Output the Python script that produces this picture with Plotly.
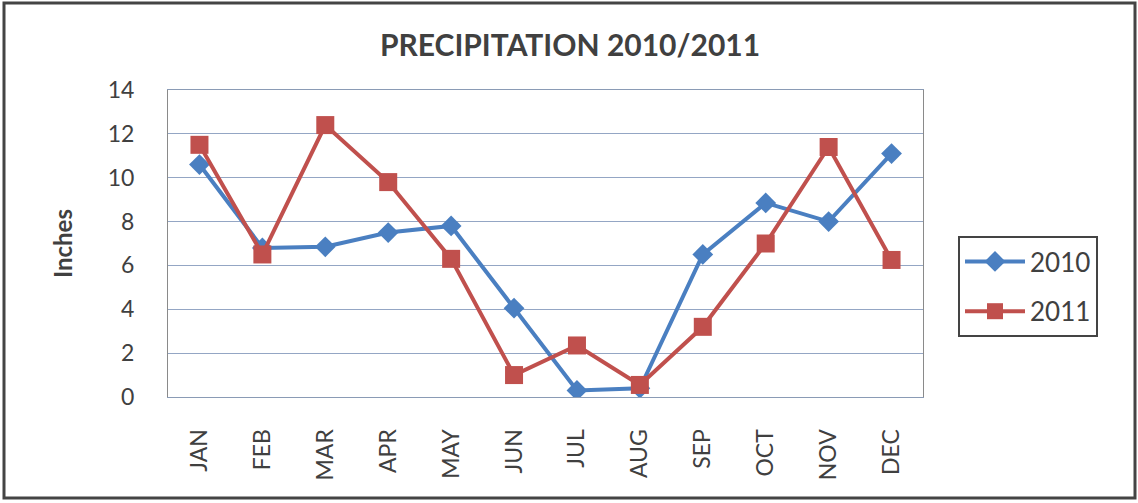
import plotly.graph_objects as go

months = ["JAN", "FEB", "MAR", "APR", "MAY", "JUN", "JUL", "AUG", "SEP", "OCT", "NOV", "DEC"]
y2010 = [10.6, 6.8, 6.85, 7.5, 7.8, 4.05, 0.3, 0.4, 6.5, 8.85, 8.0, 11.1]
y2011 = [11.5, 6.5, 12.4, 9.8, 6.3, 1.0, 2.35, 0.55, 3.2, 7.0, 11.4, 6.25]
yticks = [0, 2, 4, 6, 8, 10, 12, 14]

FONT = "Lato, 'Open Sans', sans-serif"
BLUE = "#4a7fc1"
RED = "#c0504d"
TXT = "#404040"

fig = go.Figure()
fig.add_trace(go.Scatter(x=months, y=y2010, name="2010", mode="lines+markers",
                         legendgroup="a",
                         line=dict(color=BLUE, width=4),
                         marker=dict(symbol="diamond", size=16, color=BLUE)))
fig.add_trace(go.Scatter(x=months, y=y2011, name="2011", mode="lines+markers",
                         legendgroup="b",
                         line=dict(color=RED, width=4),
                         marker=dict(symbol="square", size=18, color=RED)))

L, R, T, B = 168, 1138 - 923, 90, 503 - 397
PW, PH = 1138 - L - R, 503 - T - B
fig.update_layout(
    width=1138, height=503,
    margin=dict(l=L, r=R, t=T, b=B),
    paper_bgcolor="white", plot_bgcolor="white",
    font=dict(family=FONT, color=TXT),
    title=dict(text="<b>PRECIPITATION 2010/2011</b>", x=570 / 1138, xanchor="center",
               y=1 - 45 / 503, yanchor="middle", font=dict(size=30, color=TXT)),
    showlegend=True,
    legend=dict(x=(958 - L) / PW, xanchor="left", y=(397 - 236) / PH, yanchor="top",
                bordercolor="#444444", borderwidth=2, bgcolor="white",
                font=dict(size=26, color=TXT), tracegroupgap=13,
                itemwidth=60),
)
fig.update_xaxes(type="category", range=[-0.5, 11.5], tickangle=-90,
                 tickfont=dict(size=23, color=TXT), showgrid=False,
                 showline=True, linecolor="#8a9bb5", linewidth=1, ticks="",
                 ticklabelstandoff=22, mirror=True)
fig.update_yaxes(range=[0, 14], tickvals=yticks, ticktext=[str(v) for v in yticks],
                 tickfont=dict(size=23, color=TXT), showgrid=True,
                 gridcolor="#94a6c4", gridwidth=1, zeroline=False,
                 showline=True, linecolor="#8a8a8a", linewidth=1, mirror=True,
                 ticks="", ticklabelstandoff=28,
                 title=dict(text="<b>Inches</b>", font=dict(size=24, color=TXT), standoff=28))

# outer chart frame
fig.add_shape(type="rect", xref="paper", yref="paper",
              x0=(4 - L) / PW, x1=(1135 - L) / PW,
              y0=(397 - 498) / PH, y1=(397 - 3) / PH,
              line=dict(color="#444444", width=3), layer="below")

fig.write_html("out.html")
